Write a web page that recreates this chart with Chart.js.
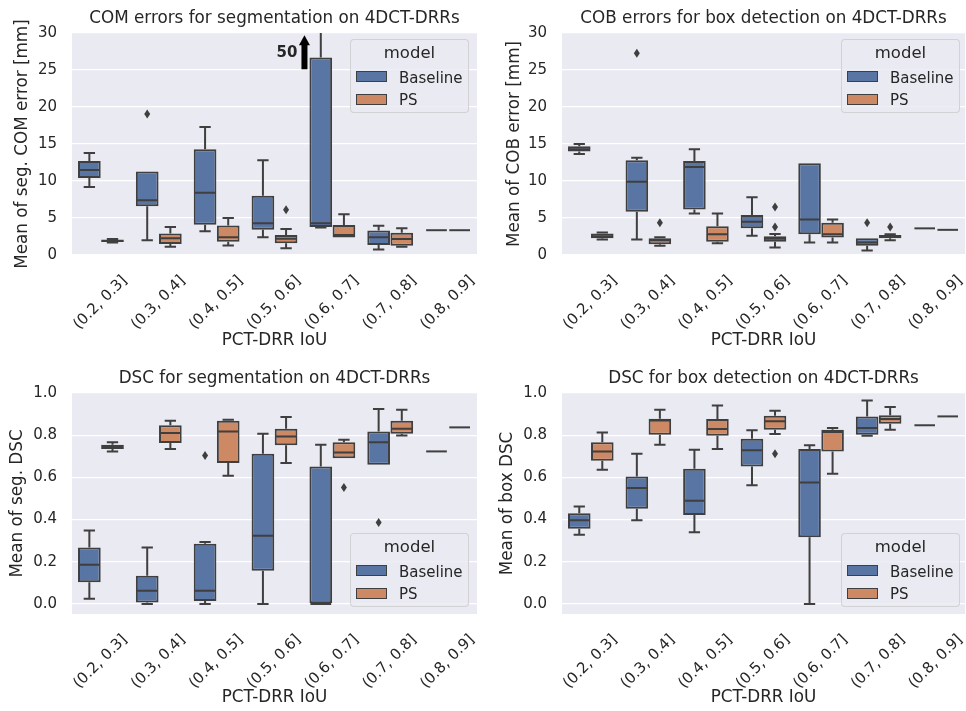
<!DOCTYPE html>
<html>
<head>
<meta charset="utf-8">
<script src="https://cdn.jsdelivr.net/npm/chart.js@4.4.0/dist/chart.umd.min.js"></script>
<style>
  body { margin: 0; background: #fff; }
  #fig { position: relative; width: 966px; height: 711px; font-family: 'DejaVu Sans'; color: #262626; }
  #fig canvas { position: absolute; }
  .legend { position: absolute; width: 119px; height: 74px; box-sizing: border-box;
    border: 1px solid rgba(204,204,204,0.8); border-radius: 4px; background: rgba(234,234,242,0.8);
    font-size: 15px; line-height: 18px; }
  .legend .ttl { position: absolute; left: 0; right: 0; top: 4px; text-align: center; font-size: 16.5px; }
  .legend .patch { position: absolute; left: 5px; width: 31px; height: 11px; box-sizing: border-box; border: 1.5px solid #3f3f3f; }
  .legend .lab { position: absolute; left: 48px; }
</style>
</head>
<body>
<div id="fig">
  <canvas id="comChart" width="483" height="355" style="left:0;top:0"></canvas>
  <canvas id="cobChart" width="483" height="355" style="left:483px;top:0"></canvas>
  <canvas id="segChart" width="483" height="356" style="left:0;top:355px"></canvas>
  <canvas id="boxChart" width="483" height="356" style="left:483px;top:355px"></canvas>
</div>
<script>
const categories = ['(0.2, 0.3]', '(0.3, 0.4]', '(0.4, 0.5]', '(0.5, 0.6]', '(0.6, 0.7]', '(0.7, 0.8]', '(0.8, 0.9]'];
const models = ['Baseline', 'PS'];
const comTicks = [0, 5, 10, 15, 20, 25, 30];
const dscTicks = [0, 0.2, 0.4, 0.6, 0.8, 1.0];

// each entry: [whisker low, q1, median, q3, whisker high]
const comBaseline = [
  [9.2, 10.4, 11.5, 12.7, 13.8],
  [2.0, 6.6, 7.4, 11.3, 11.3],
  [3.2, 4.1, 8.4, 14.3, 17.3],
  [2.4, 3.4, 4.3, 8.0, 12.8],
  [3.7, 3.8, 4.3, 26.7, 50],
  [0.75, 1.35, 2.4, 3.3, 3.95],
  [3.35, 3.35, 3.35, 3.35, 3.35],
];
const comBaselineOut = [[], [19.05], [], [], [], [], []];
const comPS = [
  [1.7, 1.75, 1.9, 2.1, 2.15],
  [1.1, 1.5, 2.25, 2.9, 3.8],
  [1.3, 1.8, 2.4, 4.0, 5.0],
  [0.9, 1.6, 2.2, 2.7, 3.5],
  [2.35, 2.35, 2.7, 4.05, 5.5],
  [1.1, 1.25, 2.15, 3.0, 3.6],
  [3.35, 3.35, 3.35, 3.35, 3.35],
];
const comPSOut = [[], [], [], [6.1], [], [], []];

const cobBaseline = [
  [13.65, 14.0, 14.3, 14.7, 15.0],
  [2.1, 5.85, 9.9, 12.8, 13.15],
  [5.6, 6.15, 11.9, 12.7, 14.3],
  [2.6, 3.6, 4.5, 5.4, 7.8],
  [1.7, 2.8, 4.8, 12.4, 12.4],
  [0.6, 1.25, 1.7, 2.25, 2.25],
  [3.6, 3.6, 3.6, 3.6, 3.6],
];
const cobBaselineOut = [[], [27.25], [], [], [], [4.35], []];
const cobPS = [
  [2.1, 2.25, 2.55, 2.9, 3.05],
  [1.25, 1.45, 2.0, 2.25, 2.4],
  [1.6, 1.8, 2.8, 3.9, 5.6],
  [1.0, 1.8, 2.2, 2.55, 2.85],
  [1.7, 2.35, 2.8, 4.35, 4.8],
  [2.0, 2.25, 2.5, 2.7, 2.8],
  [3.4, 3.4, 3.4, 3.4, 3.4],
];
const cobPSOut = [[], [4.35], [], [6.5, 3.8], [], [3.8], []];

const segBaseline = [
  [0.024, 0.103, 0.185, 0.267, 0.348],
  [0.0, 0.006, 0.062, 0.133, 0.267],
  [0.0, 0.014, 0.062, 0.285, 0.293],
  [0.0, 0.157, 0.323, 0.712, 0.807],
  [0.0, 0.0, 0.0, 0.652, 0.755],
  [0.66, 0.66, 0.766, 0.818, 0.924],
  [0.723, 0.723, 0.723, 0.723, 0.723],
];
const segBaselineOut = [[], [], [0.704], [], [], [0.386], []];
const segPS = [
  [0.723, 0.734, 0.744, 0.755, 0.767],
  [0.734, 0.763, 0.81, 0.847, 0.869],
  [0.608, 0.668, 0.818, 0.869, 0.873],
  [0.668, 0.752, 0.794, 0.831, 0.886],
  [0.691, 0.691, 0.718, 0.766, 0.778],
  [0.799, 0.807, 0.831, 0.869, 0.921],
  [0.837, 0.837, 0.837, 0.837, 0.837],
];
const segPSOut = [[], [], [], [], [0.552], [], []];

const boxBaseline = [
  [0.328, 0.356, 0.396, 0.43, 0.462],
  [0.396, 0.451, 0.549, 0.604, 0.712],
  [0.34, 0.422, 0.489, 0.641, 0.731],
  [0.562, 0.652, 0.728, 0.783, 0.823],
  [0.0, 0.316, 0.576, 0.734, 0.752],
  [0.797, 0.802, 0.834, 0.889, 0.965],
  [0.847, 0.847, 0.847, 0.847, 0.847],
];
const boxBaselineOut = [[], [], [], [], [], [], []];
const boxPS = [
  [0.636, 0.679, 0.723, 0.767, 0.813],
  [0.755, 0.802, 0.87, 0.878, 0.921],
  [0.734, 0.797, 0.829, 0.877, 0.941],
  [0.805, 0.826, 0.866, 0.892, 0.916],
  [0.617, 0.723, 0.815, 0.826, 0.834],
  [0.826, 0.854, 0.877, 0.894, 0.934],
  [0.889, 0.889, 0.889, 0.889, 0.889],
];
const boxPSOut = [[], [], [], [0.712], [], [], []];

const colors = ['#5875A4', '#CC8963'];
const edge = '#3f3f3f';

Chart.defaults.font.family = 'DejaVu Sans';
Chart.defaults.font.size = 15;
Chart.defaults.color = '#262626';

// grey seaborn background behind the grid
const areaBg = {
  id: 'areaBg',
  beforeDraw(chart) {
    const a = chart.chartArea, ctx = chart.ctx;
    ctx.save();
    ctx.fillStyle = '#EAEAF2';
    ctx.fillRect(a.left, a.top, a.right - a.left, a.bottom - a.top);
    ctx.restore();
  },
};

// whiskers, caps, medians and outliers on top of the floating bars
const whiskers = {
  id: 'whiskers',
  afterDatasetsDraw(chart) {
    const ctx = chart.ctx, y = chart.scales.y, a = chart.chartArea;
    ctx.save();
    ctx.beginPath();
    ctx.rect(a.left, a.top, a.right - a.left, a.bottom - a.top);
    ctx.clip();
    ctx.strokeStyle = edge;
    ctx.fillStyle = edge;
    ctx.lineWidth = 2;
    chart.data.datasets.forEach((ds, di) => {
      chart.getDatasetMeta(di).data.forEach((bar, i) => {
        const [lo, q1, med, q3, hi] = ds.stats[i].map(v => y.getPixelForValue(v));
        const x = bar.x, half = bar.width / 2, cap = bar.width / 4;
        ctx.beginPath();
        if (hi < q3) {
          ctx.moveTo(x, q3); ctx.lineTo(x, hi);
          ctx.moveTo(x - cap, hi); ctx.lineTo(x + cap, hi);
        }
        if (lo > q1) {
          ctx.moveTo(x, q1); ctx.lineTo(x, lo);
          ctx.moveTo(x - cap, lo); ctx.lineTo(x + cap, lo);
        }
        ctx.moveTo(x - half + 1, med); ctx.lineTo(x + half - 1, med);
        ctx.stroke();
        ds.outliers[i].forEach(v => {
          const py = y.getPixelForValue(v);
          ctx.beginPath();
          ctx.moveTo(x, py - 4.5); ctx.lineTo(x + 3, py); ctx.lineTo(x, py + 4.5); ctx.lineTo(x - 3, py);
          ctx.closePath();
          ctx.fill();
        });
      });
    });
    ctx.restore();
  },
};

// "50" with upward arrow for the clipped whisker
const arrowNote = {
  id: 'arrowNote',
  afterDatasetsDraw(chart, args, opts) {
    const ctx = chart.ctx, y = chart.scales.y;
    const bar = chart.getDatasetMeta(0).data[opts.index];
    const x = bar.x - bar.width * 0.72;
    const tail = y.getPixelForValue(opts.from), base = y.getPixelForValue(opts.head), tip = y.getPixelForValue(opts.to);
    ctx.save();
    ctx.fillStyle = '#000';
    ctx.fillRect(x - 3, base, 6, tail - base);
    ctx.beginPath();
    ctx.moveTo(x - 5.5, base + 0.5); ctx.lineTo(x, tip); ctx.lineTo(x + 5.5, base + 0.5);
    ctx.closePath();
    ctx.fill();
    ctx.fillStyle = '#262626';
    ctx.font = 'bold 15px "DejaVu Sans"';
    ctx.textAlign = 'right';
    ctx.textBaseline = 'middle';
    ctx.fillText(opts.label, x - 7, y.getPixelForValue(opts.textAt));
    ctx.restore();
  },
};

function boxSet(i, stats, outliers) {
  return {
    label: models[i],
    data: stats.map(s => [s[1], s[3]]),
    stats: stats,
    outliers: outliers,
    backgroundColor: colors[i],
    borderColor: edge,
    borderWidth: 2,
    borderSkipped: false,
    categoryPercentage: 0.8,
    barPercentage: 0.98,
  };
}

function makePanel(id, p) {
  return new Chart(document.getElementById(id), {
    type: 'bar',
    data: {
      labels: categories,
      datasets: [boxSet(0, p.baseline, p.baselineOut), boxSet(1, p.ps, p.psOut)],
    },
    options: {
      responsive: false,
      animation: false,
      events: [],
      layout: { autoPadding: false, padding: { left: 0, right: p.padRight, top: 0, bottom: 0 } },
      plugins: {
        legend: { display: false },
        tooltip: { enabled: false },
        title: {
          display: true, text: p.title, fullSize: false, color: '#262626',
          font: { size: 16.8, weight: 'normal' }, padding: { top: p.titleTop, bottom: p.titleBottom },
        },
        arrowNote: p.arrow || false,
      },
      scales: {
        x: {
          grid: { display: false },
          border: { display: false },
          ticks: { minRotation: 45, maxRotation: 45, autoSkip: false, labelOffset: 24, padding: 9 },
          title: { display: true, text: 'PCT-DRR IoU', font: { size: 16.8 }, padding: { top: 0, bottom: p.xTitleBottom } },
          afterFit: s => { s.height = p.xHeight; s.paddingLeft = 0; s.paddingRight = 0; },
        },
        y: {
          min: p.yMin,
          max: p.yMax,
          grid: { color: '#ffffff', lineWidth: 1.3, drawTicks: false },
          border: { display: false },
          ticks: { padding: 15, callback: v => v.toFixed(p.decimals) },
          afterBuildTicks: s => { s.ticks = p.ticks.map(v => ({ value: v })); },
          title: { display: true, text: p.yTitle, font: { size: 16.8 }, padding: { top: p.yTitlePad, bottom: 0 } },
          afterFit: s => { s.width = p.yWidth; },
        },
      },
    },
    plugins: [areaBg, whiskers, arrowNote],
  });
}

function addLegend(left, top) {
  const box = document.createElement('div');
  box.className = 'legend';
  box.style.left = left + 'px';
  box.style.top = top + 'px';
  let html = '<div class="ttl">model</div>';
  models.forEach((m, i) => {
    html += '<span class="patch" style="top:' + (31 + i * 23) + 'px;background:' + colors[i] + '"></span>';
    html += '<span class="lab" style="top:' + (29 + i * 22) + 'px">' + m + '</span>';
  });
  box.innerHTML = html;
  document.getElementById('fig').appendChild(box);
}

var comChart = makePanel('comChart', {
  title: 'COM errors for segmentation on 4DCT-DRRs', yTitle: 'Mean of seg. COM error [mm]',
  baseline: comBaseline, baselineOut: comBaselineOut, ps: comPS, psOut: comPSOut,
  yMin: 0, yMax: 30, ticks: comTicks, decimals: 0,
  padRight: 6, yWidth: 72, yTitlePad: 13, titleTop: 9, titleBottom: 3.84, xHeight: 100, xTitleBottom: 4,
  arrow: { index: 4, from: 25.1, head: 28.4, to: 29.7, textAt: 27.3, label: '50' },
});
var cobChart = makePanel('cobChart', {
  title: 'COB errors for box detection on 4DCT-DRRs', yTitle: 'Mean of COB error [mm]',
  baseline: cobBaseline, baselineOut: cobBaselineOut, ps: cobPS, psOut: cobPSOut,
  yMin: 0, yMax: 30, ticks: comTicks, decimals: 0,
  padRight: 1, yWidth: 79, yTitlePad: 22, titleTop: 9, titleBottom: 3.84, xHeight: 100, xTitleBottom: 4,
});
var segChart = makePanel('segChart', {
  title: 'DSC for segmentation on 4DCT-DRRs', yTitle: 'Mean of seg. DSC',
  baseline: segBaseline, baselineOut: segBaselineOut, ps: segPS, psOut: segPSOut,
  yMin: -0.048, yMax: 1.0, ticks: dscTicks, decimals: 1,
  padRight: 6, yWidth: 72, yTitlePad: 8, titleTop: 14, titleBottom: 3.84, xHeight: 97, xTitleBottom: 3,
});
var boxChart = makePanel('boxChart', {
  title: 'DSC for box detection on 4DCT-DRRs', yTitle: 'Mean of box DSC',
  baseline: boxBaseline, baselineOut: boxBaselineOut, ps: boxPS, psOut: boxPSOut,
  yMin: -0.048, yMax: 1.0, ticks: dscTicks, decimals: 1,
  padRight: 1, yWidth: 79, yTitlePad: 15, titleTop: 14, titleBottom: 3.84, xHeight: 97, xTitleBottom: 3,
});

addLegend(350, 39);
addLegend(841, 39);
addLegend(350, 533);
addLegend(841, 533);
</script>
</body>
</html>
